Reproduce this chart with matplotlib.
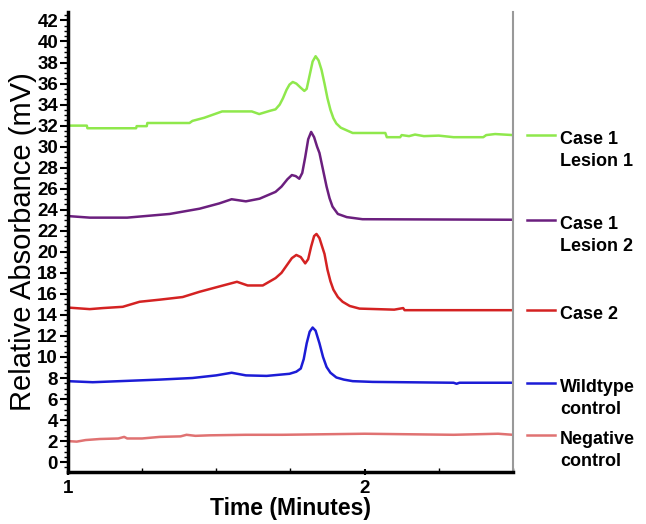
import matplotlib.pyplot as plt
from matplotlib.ticker import MultipleLocator, FixedLocator
import matplotlib.transforms as mtransforms

plt.rcParams['font.family'] = ['Liberation Sans', 'DejaVu Sans']

# Traces (time in minutes, absorbance in mV)
green_t = [1.0, 1.064, 1.066, 1.23, 1.232, 1.266, 1.268, 1.41, 1.42, 1.46, 1.495, 1.52,
           1.62, 1.645, 1.68, 1.70, 1.714, 1.725, 1.737, 1.747, 1.758, 1.77, 1.785, 1.797,
           1.805, 1.815, 1.825, 1.835, 1.845, 1.855, 1.865, 1.875, 1.885, 1.895, 1.905,
           1.92, 1.94, 1.96, 2.07, 2.075, 2.12, 2.125, 2.15, 2.17, 2.2, 2.25, 2.3, 2.4,
           2.41, 2.44, 2.5]
green_v = [32.0, 32.0, 31.75, 31.75, 31.95, 31.95, 32.25, 32.25, 32.45, 32.75, 33.1, 33.35,
           33.35, 33.1, 33.4, 33.55, 34.0, 34.6, 35.4, 35.9, 36.15, 36.0, 35.6, 35.3,
           35.5, 36.8, 38.1, 38.6, 38.2, 37.3, 36.0, 34.6, 33.5, 32.7, 32.2,
           31.8, 31.55, 31.3, 31.3, 30.9, 30.9, 31.1, 31.0, 31.15, 31.0, 31.05, 30.9, 30.9,
           31.1, 31.2, 31.1]

purple_t = [1.0, 1.074, 1.2, 1.343, 1.444, 1.51, 1.552, 1.6, 1.646, 1.70, 1.72, 1.74,
            1.755, 1.768, 1.78, 1.79, 1.80, 1.81, 1.82, 1.83, 1.84, 1.848, 1.86, 1.872,
            1.882, 1.892, 1.91, 1.94, 1.993, 2.5]
purple_v = [23.4, 23.25, 23.25, 23.6, 24.1, 24.6, 25.0, 24.8, 25.05, 25.7, 26.2, 26.9,
            27.3, 27.2, 26.95, 27.5, 29.0, 30.7, 31.4, 30.9, 30.0, 29.4, 27.8, 26.2,
            25.1, 24.3, 23.6, 23.3, 23.1, 23.05]

red_t = [1.0, 1.074, 1.118, 1.185, 1.242, 1.31, 1.387, 1.444, 1.51, 1.57, 1.606, 1.657,
         1.70, 1.72, 1.74, 1.755, 1.77, 1.785, 1.80, 1.81, 1.82, 1.83, 1.838, 1.848,
         1.857, 1.865, 1.875, 1.885, 1.895, 1.91, 1.926, 1.95, 1.983, 2.1, 2.13, 2.135,
         2.5]
red_v = [14.7, 14.55, 14.65, 14.77, 15.25, 15.45, 15.7, 16.2, 16.7, 17.15, 16.8, 16.8,
         17.5, 18.0, 18.8, 19.4, 19.7, 19.5, 18.9, 19.3, 20.5, 21.5, 21.7, 21.3,
         20.5, 19.8, 18.3, 17.2, 16.4, 15.7, 15.25, 14.85, 14.6, 14.5, 14.65, 14.45,
         14.45]

blue_t = [1.0, 1.084, 1.31, 1.42, 1.5, 1.552, 1.6, 1.67, 1.747, 1.77, 1.785, 1.795,
          1.805, 1.815, 1.825, 1.835, 1.848, 1.86, 1.872, 1.885, 1.905, 1.93, 1.96,
          2.027, 2.3, 2.31, 2.32, 2.5]
blue_v = [7.7, 7.6, 7.85, 8.0, 8.25, 8.5, 8.25, 8.2, 8.4, 8.6, 8.9, 9.8,
          11.3, 12.4, 12.8, 12.5, 11.3, 10.0, 9.05, 8.5, 8.05, 7.85, 7.7,
          7.63, 7.55, 7.45, 7.55, 7.55]

pink_t = [1.0, 1.03, 1.06, 1.108, 1.17, 1.19, 1.2, 1.25, 1.31, 1.38, 1.4, 1.43, 1.478,
          1.6, 1.724, 2.0, 2.3, 2.45, 2.5]
pink_v = [2.0, 1.95, 2.1, 2.2, 2.25, 2.4, 2.25, 2.25, 2.4, 2.45, 2.6, 2.5, 2.55,
          2.6, 2.6, 2.7, 2.6, 2.7, 2.6]

series = [
    (green_t, green_v, '#8fe84c', 'Case 1\nLesion 1'),
    (purple_t, purple_v, '#6b1f7e', 'Case 1\nLesion 2'),
    (red_t, red_v, '#d42222', 'Case 2'),
    (blue_t, blue_v, '#1c1cd6', 'Wildtype\ncontrol'),
    (pink_t, pink_v, '#e07272', 'Negative\ncontrol'),
]

fig = plt.figure(figsize=(6.46, 5.24), dpi=100)
ax = fig.add_axes([0.105, 0.099, 0.689, 0.878])

trans = mtransforms.blended_transform_factory(ax.transAxes, ax.transData)
for t, v, c, lab in series:
    ax.plot(t, v, color=c, lw=1.8)
    # label at the right, level with the end of each trace
    ax.plot([1.031, 1.094], [v[-1], v[-1]], color=c, lw=1.8,
            transform=trans, clip_on=False)
    ax.annotate(lab, xy=(1.106, v[-1]), xycoords=trans, xytext=(0, 3),
                textcoords='offset points', va='top', ha='left',
                fontsize=13, fontweight='bold', linespacing=1.4)

ax.set_xlim(1, 2.5)
ax.set_ylim(-0.95, 42.8)
ax.xaxis.set_major_locator(FixedLocator([1, 2]))
ax.xaxis.set_minor_locator(MultipleLocator(0.25))
ax.yaxis.set_major_locator(MultipleLocator(2))
ax.yaxis.set_minor_locator(MultipleLocator(0.5))

ax.spines['top'].set_visible(False)
ax.spines['left'].set_linewidth(2.5)
ax.spines['bottom'].set_linewidth(2.5)
ax.spines['right'].set_color('#999999')
ax.spines['right'].set_linewidth(1.5)

ax.tick_params(axis='y', which='major', length=6, width=1.5, labelsize=13.5, pad=1)
ax.tick_params(axis='y', which='minor', length=3, width=1)
ax.tick_params(axis='x', which='major', length=4, width=1.5, direction='inout',
               labelsize=13.5, pad=4)
ax.tick_params(axis='x', which='minor', length=3, width=1, direction='in')
for lbl in ax.get_xticklabels() + ax.get_yticklabels():
    lbl.set_fontweight('bold')

ax.set_xlabel('Time (Minutes)', fontsize=16.5, fontweight='bold', labelpad=0)
ax.set_ylabel('Relative Absorbance (mV)', fontsize=21, labelpad=0)

fig.savefig('out.png', dpi=100)
